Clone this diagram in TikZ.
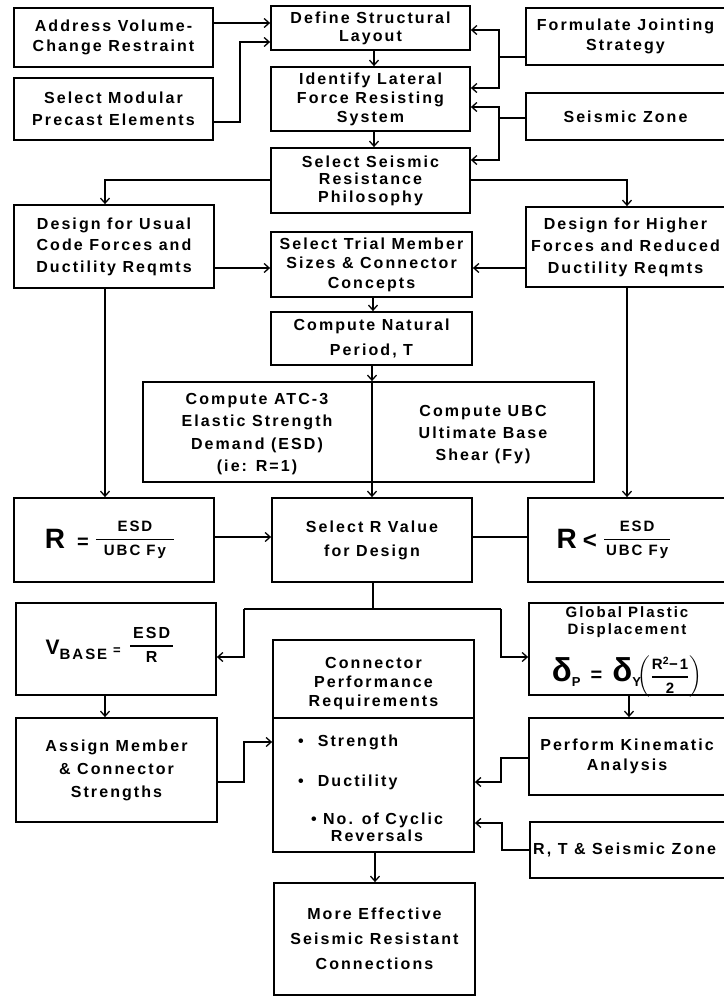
\documentclass[tikz,border=0pt]{standalone}
\usepackage{amsmath}
\usepackage{fontspec}
\setmainfont{Liberation Sans}[LetterSpace=13]
\usetikzlibrary{arrows.meta}
\newcommand\fsz[2]{\fontsize{#1}{#2}\selectfont\bfseries}
\begin{document}
\begin{tikzpicture}[x=1pt,y=-1pt,
  box/.style={draw, line width=1.8pt, inner sep=0pt, align=center, font=\fsz{16}{20}},
  bx/.style 2 args={minimum width=#1pt, minimum height=#2pt},
  txt/.style={inner sep=0pt, align=center, font=\fsz{16}{20}},
  conn/.style={line width=1.5pt},
  arr/.style={line width=1.5pt, -{Straight Barb[length=5pt,width=9pt,line width=1.3pt]}}]
\useasboundingbox (0,0) rectangle (723,998);
\fill[white] (0,0) rectangle (723,998);
% top rows
\node[box, bx={199}{59}] (addr) at (113.5,37.5) {Address Volume-\\Change Restraint};
\node[box, bx={199}{44}, font=\fsz{16}{18}] (define) at (370.5,28) {Define Structural\\Layout};
\node[box, bx={199}{57}] (formulate) at (625.5,36.5) {Formulate Jointing\\Strategy};
\node[box, bx={199}{64}, font=\fsz{16}{19}] (identify) at (370.5,99) {Identify Lateral\\Force Resisting\\System};
\node[box, bx={199}{62}, font=\fsz{16}{22}] (modular) at (113.5,109) {Select Modular\\Precast Elements};
\node[box, bx={199}{47}] (zone) at (625.5,116.5) {Seismic Zone};
\node[box, bx={199}{65}, font=\fsz{16}{17.5}] (philo) at (370.5,180.5) {Select Seismic\\Resistance\\Philosophy};
\node[box, bx={200}{83}, font=\fsz{16}{21.5}] (usual) at (114,246.5) {Design for Usual\\Code Forces and\\Ductility Reqmts};
\node[box, bx={201}{65}, font=\fsz{16}{19.5}] (trial) at (371.5,264.5) {Select Trial Member\\Sizes \& Connector\\Concepts};
\node[box, bx={199}{80}, font=\fsz{16}{22}] (higher) at (625.5,247) {Design for Higher\\Forces and Reduced\\Ductility Reqmts};
\node[box, bx={201}{53}, font=\fsz{16}{25}] (natural) at (371.5,338.5) {Compute Natural\\Period, T};
\node[box, bx={451}{100}] (atc) at (368.5,432) {};
\node[txt, font=\fsz{16}{22.5}] (atcL) at (257,434) {Compute ATC-3\\Elastic Strength\\Demand (ESD)\\(ie: R=1)};
\node[txt, font=\fsz{16}{22}] (atcR) at (483,435) {Compute UBC\\Ultimate Base\\Shear (Fy)};
% R row
\node[box, bx={200}{84}] (rEq) at (114,540) {};
\node[txt] (rEqT) at (110,540) {{\fsz{28}{28}R}\hspace{12pt}{\fsz{20}{20}=}\hspace{6pt}\raisebox{5pt}{$\genfrac{}{}{1.5pt}{0}{\text{\fsz{15}{15}ESD}}{\text{\fsz{15}{15}\hspace{8pt}UBC Fy\hspace{8pt}}}$}};
\node[box, bx={200}{84}, font=\fsz{16}{24}] (selR) at (372,540) {Select R Value\\for Design};
\node[box, bx={197}{84}] (rLt) at (626.5,540) {};
\node[txt] (rLtT) at (614,540) {{\fsz{28}{28}R}\hspace{6pt}{\fsz{24}{24}<}\hspace{6pt}\raisebox{5pt}{$\genfrac{}{}{1.5pt}{0}{\text{\fsz{15}{15}ESD}}{\text{\fsz{15}{15}\hspace{2pt}UBC Fy\hspace{2pt}}}$}};
% V row
\node[box, bx={200}{92}] (vbase) at (116,649) {};
\node[txt] (vbaseT) at (110,645) {{\fsz{21}{21}V}\raisebox{-5pt}{\fsz{15}{15}BASE}\hspace{6pt}{\fsz{13}{13}=}\hspace{8pt}\raisebox{4pt}{$\genfrac{}{}{1.4pt}{0}{\text{\fsz{16}{16}\hspace{3pt}ESD\hspace{3pt}}}{\text{\fsz{16}{16}R}}$}};
\node[box, bx={196}{92}] (gpd) at (627,649) {};
\node[txt, font=\fsz{15}{17}] (gpdT) at (627,622) {Global Plastic\\Displacement};
\node[txt] (gpdF) at (627,677) {{\fsz{33}{33}δ}\raisebox{-5pt}{\fsz{13}{13}P}\hspace{10pt}{\fsz{20}{20}=}\hspace{10pt}{\fsz{33}{33}δ}\raisebox{-5pt}{\fsz{13}{13}Y}\hspace{-3pt}$\left(\genfrac{}{}{1.2pt}{0}{\text{\fsz{15}{15}R\textsuperscript{2}−1}}{\text{\fsz{15}{15}2}}\right)$};
% connector box
\node[box, bx={201}{212}] (conn) at (373.5,746) {};
\draw[line width=1.8pt] (conn.west |- 0,718) -- (conn.east |- 0,718);
\node[txt, font=\fsz{16}{19}] (connT) at (373.5,684) {Connector\\Performance\\Requirements};
\node[txt, anchor=west] (b1) at (298,742) {•\hspace{14pt}Strength};
\node[txt, anchor=west] (b2) at (298,782) {•\hspace{14pt}Ductility};
\node[txt, font=\fsz{16}{17}] (b3) at (377,827) {• No. of Cyclic\\Reversals};
\node[box, bx={201}{104}, font=\fsz{16}{23}] (assign) at (116.5,770) {Assign Member\\\& Connector\\Strengths};
\node[box, bx={196}{77}] (kin) at (627,756.5) {Perform Kinematic\\Analysis};
\node[box, bx={195}{56}] (rt) at (627.5,850) {};
\node[txt, anchor=west] (rtT) at (533,850) {R, T \& Seismic Zone};
\node[box, bx={201}{112}, font=\fsz{16}{25}] (more) at (374.5,939) {More Effective\\Seismic Resistant\\Connections};
% connectors
\draw[arr] (addr.east |- 0,23) -- (define.west |- 0,23);
\coordinate (m1) at (240,122); \coordinate (m2) at (240,42);
\draw[arr] (modular.east |- m1) -- (m1) -- (m2) -- (define.west |- m2);
\coordinate (f1) at (499,57); \coordinate (f2) at (499,30); \coordinate (f3) at (499,88);
\draw[conn] (formulate.west |- f1) -- (f1);
\draw[arr] (f1) -- (f2) -- (define.east |- f2);
\draw[arr] (f1) -- (f3) -- (identify.east |- f3);
\coordinate (z1) at (499,118); \coordinate (z2) at (499,107); \coordinate (z3) at (499,160);
\draw[conn] (zone.west |- z1) -- (z1);
\draw[arr] (z1) -- (z2) -- (identify.east |- z2);
\draw[arr] (z1) -- (z3) -- (philo.east |- z3);
\draw[arr] (define.south -| 374,0) -- (identify.north -| 374,0);
\draw[arr] (identify.south -| 374,0) -- (philo.north -| 374,0);
\coordinate (p1) at (105,180); \coordinate (p2) at (627,180);
\draw[arr] (philo.west |- p1) -- (p1) -- (usual.north -| p1);
\draw[arr] (philo.east |- p2) -- (p2) -- (higher.north -| p2);
\draw[arr] (usual.east |- 0,268) -- (trial.west |- 0,268);
\draw[arr] (higher.west |- 0,268) -- (trial.east |- 0,268);
\draw[arr] (trial.south -| 373,0) -- (natural.north -| 373,0);
\draw[arr] (natural.south -| 372,0) -- (atc.north -| 372,0);
\draw[conn] (atc.north -| 372,0) -- (atc.south -| 372,0);
\draw[arr] (atc.south -| 372,0) -- (selR.north -| 372,0);
\draw[arr] (usual.south -| 105,0) -- (rEq.north -| 105,0);
\draw[arr] (higher.south -| 627,0) -- (rLt.north -| 627,0);
\draw[arr] (rEq.east |- 0,537) -- (selR.west |- 0,537);
\draw[conn] (selR.east |- 0,537) -- (rLt.west |- 0,537);
\coordinate (s1) at (373,609); \coordinate (s2) at (244,609); \coordinate (s3) at (501,609);
\coordinate (s4) at (244,657); \coordinate (s5) at (501,657);
\draw[conn] (selR.south -| s1) -- (s1);
\draw[conn] (s2) -- (s3);
\draw[arr] (s2) -- (s4) -- (vbase.east |- s4);
\draw[arr] (s3) -- (s5) -- (gpd.west |- s5);
\draw[arr] (vbase.south -| 105,0) -- (assign.north -| 105,0);
\draw[arr] (gpd.south -| 629,0) -- (kin.north -| 629,0);
\coordinate (a1) at (244,782); \coordinate (a2) at (244,742);
\draw[arr] (assign.east |- a1) -- (a1) -- (a2) -- (conn.west |- a2);
\coordinate (k1) at (501,758); \coordinate (k2) at (501,782);
\draw[arr] (kin.west |- k1) -- (k1) -- (k2) -- (conn.east |- k2);
\coordinate (r1) at (502,850); \coordinate (r2) at (502,823);
\draw[arr] (rt.west |- r1) -- (r1) -- (r2) -- (conn.east |- r2);
\draw[arr] (conn.south -| 375,0) -- (more.north -| 375,0);
\end{tikzpicture}
\end{document}
